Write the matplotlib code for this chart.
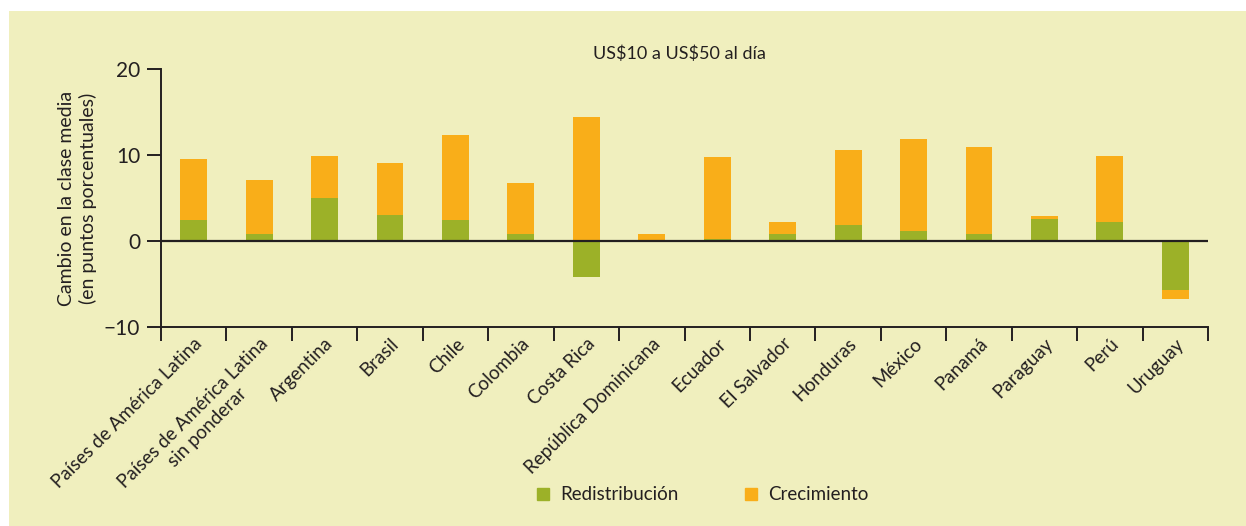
import matplotlib.pyplot as plt
import numpy as np
from matplotlib.lines import Line2D
from matplotlib.patches import Rectangle
from matplotlib.transforms import ScaledTranslation

plt.rcParams['font.family'] = ['Lato', 'DejaVu Sans']

paises = ['Países de América Latina', 'Países de América Latina\nsin ponderar',
          'Argentina', 'Brasil', 'Chile', 'Colombia', 'Costa Rica',
          'República Dominicana', 'Ecuador', 'El Salvador', 'Honduras',
          'México', 'Panamá', 'Paraguay', 'Perú', 'Uruguay']
redistribucion = [2.4, 0.75, 4.95, 3.05, 2.4, 0.85, -4.15, 0.0, 0.25, 0.75,
                  1.9, 1.2, 0.75, 2.5, 2.25, -5.7]
crecimiento = [7.1, 6.4, 5.0, 6.0, 9.9, 5.95, 14.4, 0.75, 9.5, 1.5,
               8.65, 10.65, 10.15, 0.45, 7.7, -1.05]

verde = '#9cb128'
naranja = '#f9ae19'
fondo = '#f0efbe'
oscuro = '#231f20'

fig = plt.figure(figsize=(12.46, 5.26), dpi=100, facecolor='white')
# yellow panel behind the chart
fig.patches.append(Rectangle((9 / 1246, 0), 1, 1 - 11 / 526, transform=fig.transFigure,
                             facecolor=fondo, edgecolor='none', zorder=-10))
ax = fig.add_axes([161 / 1246, 1 - 326.7 / 526, (1208 - 161) / 1246, (326.7 - 69.3) / 526])
ax.set_facecolor('none')

x = np.arange(len(paises))
red = np.array(redistribucion)
cre = np.array(crecimiento)
# growth stacks on top of redistribution when both have the same sign
base = np.where(np.sign(cre) == np.sign(red), red, 0)
ax.bar(x, red, width=0.41, color=verde, zorder=2)
ax.bar(x, cre, width=0.41, bottom=base, color=naranja, zorder=2)
ax.axhline(0, color=oscuro, lw=1.6, zorder=3)

ax.set_xlim(-0.5, len(paises) - 0.5)
ax.set_ylim(-10, 20)
ax.set_yticks([-10, 0, 10, 20])
ax.set_yticklabels(['\u221210', '0', '10', '20'], fontsize=15, color=oscuro)
ax.set_xticks(np.arange(-0.5, len(paises)), minor=False)
ax.set_xticklabels([])
ax.set_xticks(x, minor=True)
ax.set_xticklabels(paises, minor=True, rotation=45, ha='right', va='top',
                   rotation_mode='anchor', fontsize=13.5, color=oscuro,
                   multialignment='center')
shift = ScaledTranslation(-6 / 100, 0, fig.dpi_scale_trans)
for lbl in ax.get_xticklabels(minor=True):
    lbl.set_transform(lbl.get_transform() + shift)
ax.tick_params(axis='x', which='minor', length=0, pad=6)
ax.tick_params(axis='x', which='major', length=10, width=1.4, color=oscuro, direction='out')
ax.tick_params(axis='y', length=10, width=1.4, color=oscuro, pad=5)
for s in ['top', 'right']:
    ax.spines[s].set_visible(False)
for s in ['left', 'bottom']:
    ax.spines[s].set_color(oscuro)
    ax.spines[s].set_linewidth(1.4)

ax.set_ylabel('Cambio en la clase media\n(en puntos porcentuales)', fontsize=14,
              color=oscuro, labelpad=5, linespacing=1.25)
fig.text(0.545, 1 - 54 / 526, 'US\\$10 a US\\$50 al día', ha='center', va='center',
         fontsize=13, color=oscuro)

handles = [Line2D([], [], marker='s', ls='none', color=verde, markersize=9),
           Line2D([], [], marker='s', ls='none', color=naranja, markersize=9)]
fig.legend(handles, ['Redistribución', 'Crecimiento'], loc='center',
           bbox_to_anchor=(701 / 1246, 1 - 495 / 526), ncol=2, frameon=False,
           fontsize=13.5, columnspacing=3.4, handletextpad=0.4, handlelength=1.0,
           labelcolor=oscuro)

fig.savefig('out.png', dpi=100, facecolor='white')
